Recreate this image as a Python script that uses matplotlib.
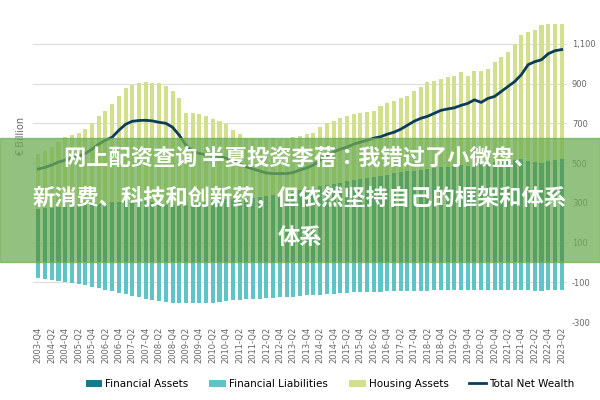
import numpy as np
import matplotlib.pyplot as plt
from matplotlib.patches import Rectangle

# quarters 2003-Q4 .. 2023-Q2
quarters = []
for y in range(2003, 2024):
    for q in range(1, 5):
        if (y == 2003 and q < 4) or (y == 2023 and q > 2):
            continue
        quarters.append("%d-Q%d" % (y, q))

fin_assets = [270, 272, 275, 278, 281, 284, 287, 290, 293, 296, 300, 303, 306,
              309, 312, 314, 310, 302, 295, 290, 288, 288, 290, 295, 300, 305,
              310, 314, 318, 320, 320, 322, 325, 330, 335, 340, 345, 350, 355,
              362, 370, 377, 383, 390, 396, 402, 408, 414, 420, 425, 430, 436,
              442, 448, 453, 458, 462, 466, 470, 474, 478, 482, 486, 490, 485,
              492, 496, 500, 505, 510, 514, 517, 520, 512, 505, 500, 508, 515, 522]
total_top = [546, 563, 579, 604, 629, 640, 653, 670, 703, 737, 762, 796, 838,
             876, 892, 901, 906, 905, 903, 889, 864, 825, 754, 752, 749, 737,
             720, 712, 695, 666, 644, 627, 622, 620, 622, 625, 622, 620, 630,
             636, 645, 653, 680, 703, 712, 729, 737, 746, 754, 758, 762, 788,
             800, 813, 825, 838, 864, 884, 906, 914, 923, 931, 940, 960, 940,
             965, 965, 973, 1007, 1033, 1058, 1100, 1142, 1159, 1168, 1193,
             1201, 1201, 1201]
fin_liab = [-80, -85, -90, -95, -100, -104, -108, -115, -122, -130, -138, -146,
            -152, -160, -168, -176, -182, -188, -193, -198, -202, -204, -205,
            -205, -205, -204, -202, -198, -194, -190, -188, -186, -184, -182,
            -180, -178, -176, -174, -172, -170, -166, -164, -162, -160, -158,
            -156, -153, -151, -150, -149, -148, -147, -146, -146, -145, -144,
            -143, -142, -142, -141, -140, -139, -138, -137, -137, -137, -137,
            -137, -137, -137, -138, -139, -140, -141, -142, -142, -141, -140, -139]
net_wealth = [470, 478, 490, 505, 515, 525, 535, 548, 570, 595, 615, 630, 665,
              695, 710, 714, 715, 712, 705, 700, 680, 640, 590, 560, 548, 542,
              538, 532, 525, 510, 495, 480, 470, 460, 450, 447, 447, 447, 452,
              465, 475, 490, 515, 540, 555, 570, 580, 595, 605, 615, 625, 632,
              645, 655, 670, 690, 710, 725, 735, 750, 765, 772, 778, 790, 800,
              818, 805, 825, 835, 860, 885, 910, 945, 995, 1010, 1020, 1050,
              1065, 1071]

housing = np.array(total_top) - np.array(fin_assets)
x = np.arange(len(quarters))

fig = plt.figure(figsize=(6, 4), dpi=100)
ax = fig.add_axes([0.055, 0.195, 0.89, 0.77])

b1 = ax.bar(x, fin_assets, width=0.6, color="#157a8c", label="Financial Assets", zorder=2)
b2 = ax.bar(x, fin_liab, width=0.6, color="#5ec4c6", label="Financial Liabilities", zorder=2)
b3 = ax.bar(x, housing, bottom=fin_assets, width=0.6, color="#d2df8c", label="Housing Assets", zorder=2)
l1, = ax.plot(x, net_wealth, color="#0d3b5a", lw=2, label="Total Net Wealth", zorder=3)

ax.set_ylim(-300, 1250)
ax.set_xlim(-0.8, len(quarters) - 0.2)
ax.yaxis.tick_right()
ax.set_yticks(range(-300, 1101, 200))
ax.set_yticklabels(["-300", "-100", "100", "300", "500", "700", "900", "1,100"])
ax.set_xticks(x[::2])
ax.set_xticklabels(quarters[::2], rotation=90)
ax.tick_params(axis="both", length=0, labelsize=6, colors="#666666")
ax.grid(axis="y", color="#dddddd", lw=0.8, zorder=0)
for s in ax.spines.values():
    s.set_visible(False)
fig.text(0.035, 0.66, "€ Billion", rotation=90, fontsize=7, color="#666666",
         ha="center", va="center")

fig.legend([b1, b2, b3, l1],
           ["Financial Assets", "Financial Liabilities", "Housing Assets", "Total Net Wealth"],
           loc="center", bbox_to_anchor=(0.55, 0.04), ncol=4, frameon=False,
           fontsize=7.5, handlelength=1.6, handletextpad=0.3, columnspacing=2)

# overlay banner
fig.patches.append(Rectangle((0, 0.345), 1, 0.31, transform=fig.transFigure,
                             color="#6fae55", alpha=0.75, zorder=5))
cjk = ["Noto Sans CJK SC", "Noto Sans CJK JP", "Noto Sans CJK TC", "DejaVu Sans"]
lines = ["网上配资查询 半夏投资李蓓：我错过了小微盘、",
         "新消费、科技和创新药，但依然坚持自己的框架和体系",
         "体系"]
for i, t in enumerate(lines):
    fig.text(0.5, 0.605 - i * 0.1, t, ha="center", va="center", fontsize=16,
             color="white", fontweight="bold", fontfamily=cjk, zorder=6)

fig.savefig("out.png")
